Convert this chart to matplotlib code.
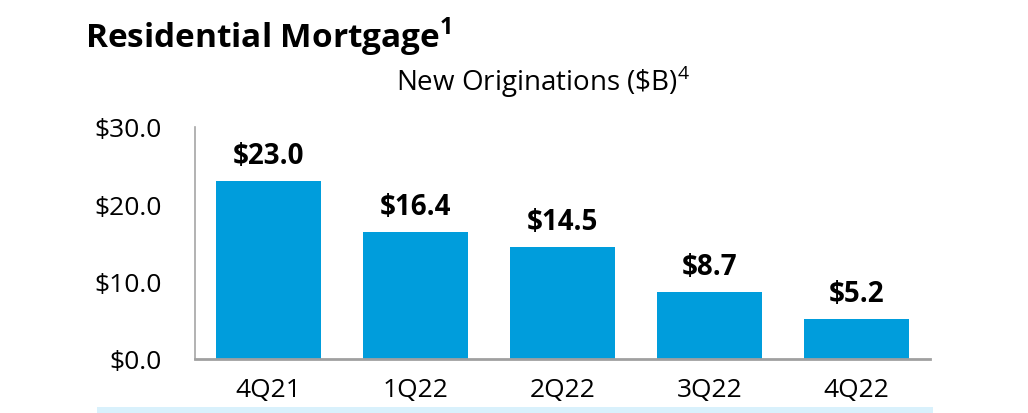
import numpy as np
import matplotlib.pyplot as plt

quarters = ['4Q21', '1Q22', '2Q22', '3Q22', '4Q22']
originations = [23.0, 16.4, 14.5, 8.7, 5.2]
yticks = [0, 10, 20, 30]

plt.rcParams['font.family'] = ['Open Sans', 'DejaVu Sans']
plt.rcParams['mathtext.fontset'] = 'custom'
plt.rcParams['mathtext.rm'] = 'Open Sans'
plt.rcParams['mathtext.bf'] = 'Open Sans:bold'

fig = plt.figure(figsize=(10.28, 4.14), dpi=100)
ax = fig.add_axes([195/1028, 1 - 360/414, (930-195)/1028, (360-128)/414])

x = np.arange(len(quarters))
bars = ax.bar(x, originations, width=0.72, color='#009ddc', zorder=2)
for xi, v in zip(x, originations):
    ax.text(xi, v + 1.4, f'${v:.1f}', ha='center', va='bottom',
            fontsize=20, fontweight='bold', color='black')

ax.set_xlim(-0.5, 4.5)
ax.set_ylim(0, 30)
ax.set_yticks(yticks)
ax.set_yticklabels([f'${t:.1f}' for t in yticks], fontsize=19)
ax.set_xticks(x)
ax.set_xticklabels(quarters, fontsize=19)
ax.tick_params(axis='x', length=0, pad=13)
ax.tick_params(axis='y', length=0, pad=24)

for s in ['top', 'right']:
    ax.spines[s].set_visible(False)
ax.spines['left'].set_color('#a6a6a6')
ax.spines['left'].set_linewidth(1.2)
ax.spines['bottom'].set_color('#a0a0a0')
ax.spines['bottom'].set_linewidth(2)

fig.text(85/1028, 1 - 37/414, r'Residential Mortgage$^{\mathbf{1}}$', fontsize=24,
         fontweight='bold', va='center', ha='left')
fig.text(543/1028, 1 - 82/414, r'New Originations (\$B)$^{4}$', fontsize=20,
         va='center', ha='center')

# light strip at the bottom
fig.add_artist(plt.Rectangle((97/1028, 0), (933-97)/1028, 6/414,
                             transform=fig.transFigure, color='#d9f1fc', lw=0))

fig.savefig('out.png', dpi=100)
